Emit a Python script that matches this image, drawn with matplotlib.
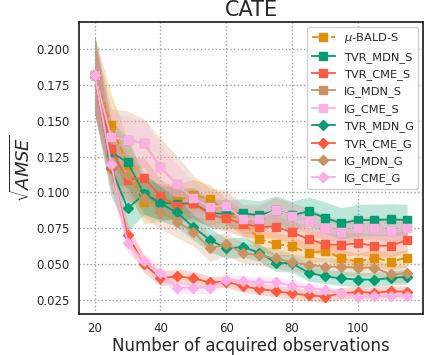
import numpy as np
import matplotlib
matplotlib.use("Agg")
import matplotlib.pyplot as plt

# ------------------------------------------------------------
# DATA
# ------------------------------------------------------------
n_obs = list(range(20, 120, 5))

mu_bald_s = [0.182, 0.147, 0.119, 0.093, 0.093, 0.094, 0.098, 0.0955, 0.0865, 0.079,
             0.0675, 0.064, 0.0625, 0.0575, 0.0594, 0.054, 0.0517, 0.0545, 0.0517, 0.0545]
tvr_mdn_s = [0.182, 0.128, 0.121, 0.099, 0.093, 0.092, 0.0925, 0.0855, 0.085, 0.0855,
             0.084, 0.0875, 0.084, 0.0868, 0.0823, 0.0784, 0.0807, 0.0807, 0.0812, 0.0807]
tvr_cme_s = [0.182, 0.130, 0.1086, 0.110, 0.0974, 0.0905, 0.0925, 0.0845, 0.0819, 0.078,
             0.0761, 0.0761, 0.0721, 0.0675, 0.0638, 0.0633, 0.0645, 0.0628, 0.0628, 0.0668]
ig_mdn_s = [0.182, 0.1384, 0.1368, 0.1342, 0.1177, 0.1055, 0.0958, 0.090, 0.0907, 0.0814,
            0.0814, 0.0877, 0.0837, 0.080, 0.0754, 0.0726, 0.0749, 0.0754, 0.073, 0.0754]
ig_cme_s = [0.182, 0.1384, 0.1368, 0.1342, 0.1177, 0.1055, 0.0958, 0.090, 0.0907, 0.0814,
            0.0814, 0.0877, 0.0837, 0.080, 0.0754, 0.0726, 0.0749, 0.0754, 0.073, 0.0754]
tvr_mdn_g = [0.182, 0.117, 0.0889, 0.0986, 0.0923, 0.086, 0.0758, 0.0668, 0.061, 0.0619,
             0.058, 0.051, 0.0505, 0.044, 0.0415, 0.040, 0.0392, 0.0392, 0.0403, 0.0412]
tvr_cme_g = [0.182, 0.117, 0.0703, 0.050, 0.040, 0.0415, 0.040, 0.0373, 0.0378, 0.0345,
             0.0326, 0.0312, 0.0295, 0.0283, 0.0273, 0.0296, 0.0306, 0.030, 0.0311, 0.0307]
ig_mdn_g = [0.182, 0.119, 0.112, 0.0958, 0.0865, 0.0796, 0.0726, 0.061, 0.0637, 0.0578,
            0.0561, 0.054, 0.0512, 0.0495, 0.0482, 0.0482, 0.0475, 0.0475, 0.0429, 0.0436]
ig_cme_g = [0.182, 0.120, 0.0649, 0.052, 0.0436, 0.0336, 0.0336, 0.0336, 0.0389, 0.0382,
            0.0373, 0.0373, 0.035, 0.0336, 0.032, 0.0296, 0.0273, 0.0278, 0.0278, 0.0278]

# spread of the shaded bands
mu_bald_s_sd = [0.027, 0.022, 0.018, 0.015, 0.013, 0.012, 0.011, 0.010, 0.009, 0.009,
                0.008, 0.008, 0.007, 0.007, 0.007, 0.006, 0.006, 0.006, 0.006, 0.006]
tvr_mdn_s_sd = [0.027, 0.022, 0.017, 0.014, 0.012, 0.011, 0.011, 0.010, 0.010, 0.010,
                0.010, 0.010, 0.010, 0.010, 0.011, 0.011, 0.011, 0.011, 0.011, 0.011]
tvr_cme_s_sd = [0.027, 0.020, 0.016, 0.014, 0.012, 0.011, 0.010, 0.009, 0.009, 0.009,
                0.008, 0.008, 0.008, 0.008, 0.008, 0.008, 0.008, 0.008, 0.008, 0.008]
ig_mdn_s_sd = [0.027, 0.020, 0.020, 0.017, 0.020, 0.020, 0.016, 0.013, 0.011, 0.010,
               0.010, 0.009, 0.009, 0.009, 0.009, 0.008, 0.008, 0.008, 0.008, 0.008]
ig_cme_s_sd = [0.027, 0.018, 0.016, 0.016, 0.016, 0.014, 0.012, 0.010, 0.009, 0.008,
               0.008, 0.008, 0.007, 0.007, 0.007, 0.007, 0.007, 0.007, 0.007, 0.007]
tvr_mdn_g_sd = [0.027, 0.020, 0.016, 0.014, 0.012, 0.010, 0.009, 0.008, 0.007, 0.007,
                0.006, 0.006, 0.006, 0.006, 0.005, 0.005, 0.005, 0.005, 0.005, 0.005]
tvr_cme_g_sd = [0.027, 0.014, 0.008, 0.006, 0.005, 0.005, 0.005, 0.004, 0.004, 0.004,
                0.004, 0.004, 0.004, 0.004, 0.004, 0.004, 0.004, 0.004, 0.004, 0.004]
ig_mdn_g_sd = [0.027, 0.020, 0.016, 0.013, 0.012, 0.011, 0.010, 0.009, 0.008, 0.007,
               0.007, 0.007, 0.006, 0.006, 0.006, 0.006, 0.006, 0.006, 0.006, 0.006]
ig_cme_g_sd = [0.027, 0.014, 0.007, 0.006, 0.005, 0.004, 0.004, 0.004, 0.004, 0.004,
               0.004, 0.004, 0.004, 0.003, 0.003, 0.003, 0.003, 0.003, 0.003, 0.003]

ORANGE = "#DE8F05"
GREEN = "#029E73"
RED = "#FC5B3F"
TAN = "#CA9161"
PINK = "#FBAFE4"

series = [
    ("$\\mu$-BALD-S", mu_bald_s, mu_bald_s_sd, ORANGE, "s", "--"),
    ("TVR_MDN_S", tvr_mdn_s, tvr_mdn_s_sd, GREEN, "s", "-"),
    ("TVR_CME_S", tvr_cme_s, tvr_cme_s_sd, RED, "s", "-"),
    ("IG_MDN_S", ig_mdn_s, ig_mdn_s_sd, TAN, "s", "-"),
    ("IG_CME_S", ig_cme_s, ig_cme_s_sd, PINK, "s", "-"),
    ("TVR_MDN_G", tvr_mdn_g, tvr_mdn_g_sd, GREEN, "D", "-"),
    ("TVR_CME_G", tvr_cme_g, tvr_cme_g_sd, RED, "D", "-"),
    ("IG_MDN_G", ig_mdn_g, ig_mdn_g_sd, TAN, "D", "-"),
    ("IG_CME_G", ig_cme_g, ig_cme_g_sd, PINK, "D", "-"),
]

# ------------------------------------------------------------
# PLOT
# ------------------------------------------------------------
plt.rcParams["font.family"] = ["DejaVu Sans"]
plt.rcParams["text.color"] = "#262626"
plt.rcParams["axes.labelcolor"] = "#262626"
plt.rcParams["xtick.color"] = "#262626"
plt.rcParams["ytick.color"] = "#262626"

fig = plt.figure(figsize=(4.25, 3.55), dpi=100)
ax = fig.add_axes([0.186, 0.1155, 0.809, 0.8225])

x = np.array(n_obs)
for label, mean, sd, color, marker, ls in series:
    mean = np.array(mean)
    sd = np.array(sd)
    ax.fill_between(x, mean - sd, mean + sd, color=color, alpha=0.25, linewidth=0)
    ax.plot(x, mean, color=color, marker=marker, linestyle=ls, linewidth=1.3,
            markersize=6 if marker == "s" else 5.5, label=label)

ax.set_xlim(15.25, 119.75)
ax.set_ylim(0.0152, 0.2188)
ax.set_xticks([20, 40, 60, 80, 100])
ax.set_yticks([0.025, 0.050, 0.075, 0.100, 0.125, 0.150, 0.175, 0.200])
ax.set_yticklabels(["0.025", "0.050", "0.075", "0.100", "0.125", "0.150", "0.175", "0.200"])
ax.tick_params(length=0, labelsize=8.5)
ax.tick_params(axis="x", pad=6)
ax.tick_params(axis="y", pad=7)

ax.grid(True, linestyle=":", color="#a0a0a0", linewidth=1)
ax.set_axisbelow(True)
for sp in ax.spines.values():
    sp.set_color("#222222")
    sp.set_linewidth(1.25)

ax.set_title("CATE", fontsize=15, pad=4)
ax.set_xlabel("Number of acquired observations", fontsize=12, labelpad=1)
ax.set_ylabel("$\\sqrt{AMSE}$", fontsize=13, labelpad=1)

ax.legend(loc="upper right", fontsize=8.2, labelspacing=0.57, borderaxespad=0.4,
          framealpha=0.9, edgecolor="#cccccc")

fig.savefig("out.png", dpi=100)
